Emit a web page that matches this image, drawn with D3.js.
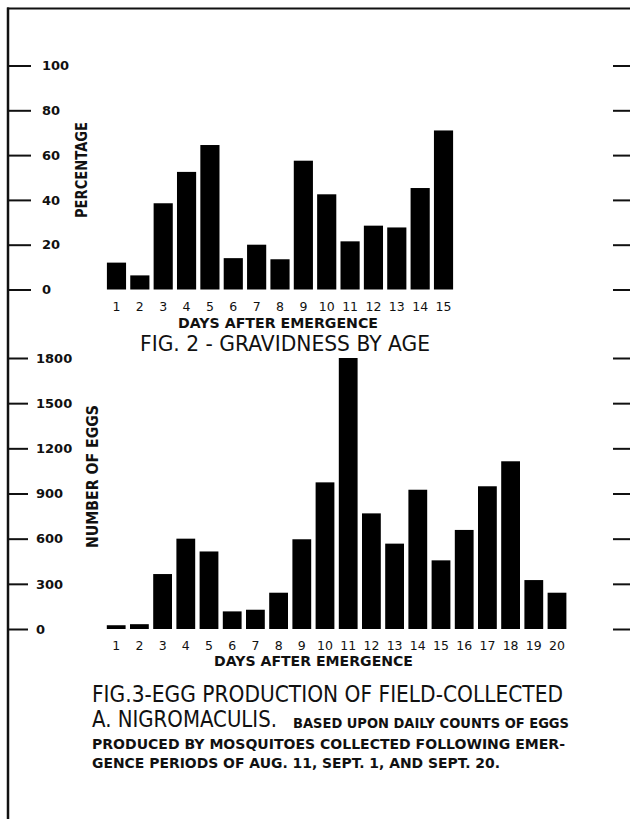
<!DOCTYPE html>
<html>
<head>
<meta charset="utf-8">
<script src="https://cdn.jsdelivr.net/npm/d3@7/dist/d3.min.js"></script>
<style>
  html, body { margin: 0; padding: 0; background: #fff; }
  svg { display: block; }
  text { font-family: "DejaVu Sans", "Liberation Sans", sans-serif; fill: #111; }
</style>
</head>
<body>
<svg id="chart" width="630" height="819"></svg>
<script>
// ---------- DATA ----------
const gravDays = ["1","2","3","4","5","6","7","8","9","10","11","12","13","14","15"];
const gravPct = [12, 6.3, 38.5, 52.5, 64.5, 14, 20, 13.5, 57.5, 42.5, 21.5, 28.5, 27.7, 45.3, 71];
const gravTicks = [0, 20, 40, 60, 80, 100];

const eggDays = ["1","2","3","4","5","6","7","8","9","10","11","12","13","14","15","16","17","18","19","20"];
const eggCounts = [25, 32, 365, 600, 515, 117, 128, 241, 596, 974, 1800, 768, 567, 925, 456, 658, 948, 1114, 325, 241];
const eggTicks = [0, 300, 600, 900, 1200, 1500, 1800];

const texts = {
  xTitle: "DAYS AFTER EMERGENCE",
  fig2: "FIG. 2 - GRAVIDNESS BY AGE",
  y2: "PERCENTAGE",
  y3: "NUMBER OF EGGS",
  cap1: "FIG.3-EGG PRODUCTION OF FIELD-COLLECTED",
  cap2a: "A. NIGROMACULIS.",
  cap2b: "BASED UPON DAILY COUNTS OF EGGS",
  cap3: "PRODUCED BY MOSQUITOES COLLECTED FOLLOWING EMER-",
  cap4: "GENCE PERIODS OF AUG. 11,  SEPT. 1,  AND SEPT. 20."
};

// ---------- DRAW ----------
const svg = d3.select("#chart");
const W = 630;

// frame lines (top and left border)
svg.append("line").attr("x1", 7).attr("x2", W).attr("y1", 8.5).attr("y2", 8.5)
  .attr("stroke", "#111").attr("stroke-width", 2);
svg.append("line").attr("x1", 8).attr("x2", 8).attr("y1", 7.5).attr("y2", 819)
  .attr("stroke", "#111").attr("stroke-width", 2.5);

function txt(t, x, y, size, weight, len, anchor, rotate) {
  const el = svg.append("text")
    .attr("font-size", size)
    .attr("font-weight", weight)
    .attr("text-anchor", anchor || "start")
    .text(t);
  if (rotate) {
    el.attr("transform", `translate(${x},${y}) rotate(-90)`);
  } else {
    el.attr("x", x).attr("y", y);
  }
  if (len) el.attr("textLength", len).attr("lengthAdjust", "spacingAndGlyphs");
  return el;
}

function panel(cfg) {
  const x = d3.scaleBand().domain(cfg.days).range(cfg.xRange)
    .paddingInner(cfg.pad).paddingOuter(cfg.pad / 2);
  const y = d3.scaleLinear().domain(cfg.domain).range(cfg.yRange);

  // bars
  svg.append("g").selectAll("rect").data(cfg.values).join("rect")
    .attr("x", (d, i) => x(cfg.days[i]))
    .attr("width", x.bandwidth())
    .attr("y", d => y(d))
    .attr("height", d => y(0) - y(d))
    .attr("fill", "#000");

  // left axis: ticks from the frame line, labels to the right
  const gl = svg.append("g").attr("transform", `translate(8,0)`)
    .call(d3.axisRight(y).tickValues(cfg.ticks).tickSize(cfg.tickLen)
      .tickPadding(cfg.labelPad).tickFormat(d3.format("d")));
  gl.select(".domain").remove();
  gl.selectAll(".tick line").attr("stroke", "#111").attr("stroke-width", 2);
  gl.selectAll(".tick text").attr("font-size", 13).attr("font-weight", "bold")
    .attr("fill", "#111").attr("font-family", "DejaVu Sans, sans-serif");

  // right edge ticks
  const gr = svg.append("g").attr("transform", `translate(${W},0)`)
    .call(d3.axisLeft(y).tickValues(cfg.ticks).tickSize(17).tickFormat(""));
  gr.select(".domain").remove();
  gr.selectAll(".tick line").attr("stroke", "#111").attr("stroke-width", 2);

  // bottom tick labels
  const gb = svg.append("g").attr("transform", `translate(0,${y(0)})`)
    .call(d3.axisBottom(x).tickSize(0).tickPadding(0));
  gb.select(".domain").remove();
  gb.selectAll(".tick text").attr("dy", null).attr("y", cfg.xLabelY - y(0))
    .attr("font-size", 12.5).attr("fill", "#111")
    .attr("font-family", "DejaVu Sans, sans-serif");

  return { x, y };
}

panel({
  days: gravDays, values: gravPct, ticks: gravTicks, domain: [0, 100],
  xRange: [104.8, 455.2], yRange: [289.5, 65.5], pad: 0.18,
  tickLen: 23, labelPad: 11, xLabelY: 311
});

panel({
  days: eggDays, values: eggCounts, ticks: eggTicks, domain: [0, 1800],
  xRange: [104.6, 568.6], yRange: [629, 358], pad: 0.19,
  tickLen: 20, labelPad: 8, xLabelY: 650
});

// titles & captions
txt(texts.xTitle, 178, 327.5, 13.5, "bold", 200);
txt(texts.fig2, 140, 351, 22, "normal", 290);
txt(texts.y2, 86.5, 218, 15, "bold", 96, "start", true);
txt(texts.xTitle, 214, 666, 13.5, "bold", 199);
txt(texts.y3, 98, 548, 15, "bold", 143, "start", true);

txt(texts.cap1, 92, 702, 23, "normal", 471);
txt(texts.cap2a, 92, 727, 23, "normal", 185);
txt(texts.cap2b, 293, 728, 13.5, "bold", 276);
txt(texts.cap3, 92, 749, 13.5, "bold", 473);
txt(texts.cap4, 92, 768, 13.5, "bold", 408);
</script>
</body>
</html>
